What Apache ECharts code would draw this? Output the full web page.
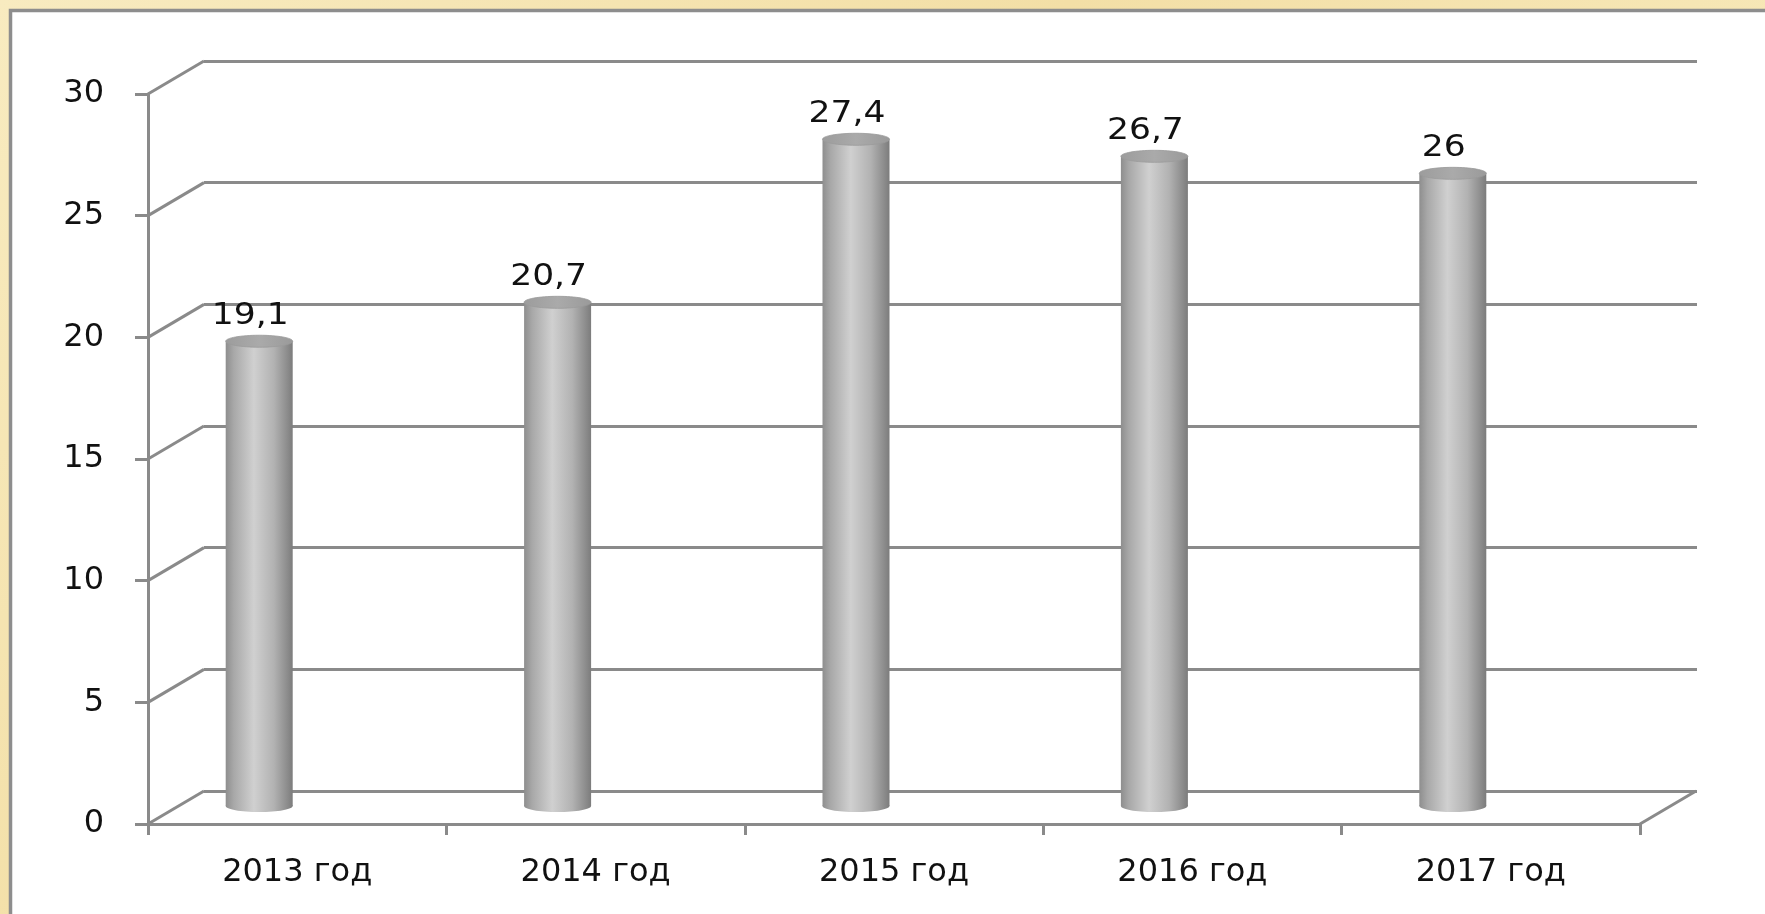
<!DOCTYPE html>
<html>
<head>
<meta charset="utf-8">
<script src="https://cdn.jsdelivr.net/npm/echarts@6/dist/echarts.min.js"></script>
<style>
html,body{margin:0;padding:0;}
body{width:1765px;height:914px;overflow:hidden;
background:linear-gradient(135deg,#f8ebc0 0%,#f3dfa6 40%,#f7e8b8 70%,#f1dca2 100%);}
#chart{width:1765px;height:914px;}
</style>
</head>
<body>
<div id="chart"></div>
<script>
// ---- data ----
const categories = ['2013 год', '2014 год', '2015 год', '2016 год', '2017 год'];
const values = [19.1, 20.7, 27.4, 26.7, 26];
const yTicks = [0, 5, 10, 15, 20, 25, 30];
const yMin = 0, yMax = 30, yStep = 5;

// ---- layout / style ----
const BACK = {left: 204, top: 61, width: 1493, height: 730};
const FRONT = {left: 148, top: 94, width: 1492, height: 730};
const BARS = {left: 110, top: 76, width: 1492, height: 730};
const DX = BACK.left - FRONT.left, DY = BACK.top - FRONT.top;
const LINE = '#8a8a8a';
const FONT = 'DejaVu Sans';
const TXT = '#111';

const chart = echarts.init(document.getElementById('chart'), null, {renderer: 'canvas'});

const yBase = {type: 'value', min: yMin, max: yMax, interval: yStep};

const option = {
  backgroundColor: 'transparent',
  animation: false,
  graphic: [{
    type: 'rect', z: -10, silent: true,
    shape: {x: 10.5, y: 10.5, width: 1900, height: 1000},
    style: {fill: '#ffffff', stroke: '#8d8d8d', lineWidth: 3.5}
  }],
  grid: [
    Object.assign({containLabel: false}, BACK),
    Object.assign({containLabel: false}, FRONT),
    Object.assign({containLabel: false}, BARS)
  ],
  xAxis: [
    {gridIndex: 0, type: 'category', data: categories, show: false},
    {gridIndex: 1, type: 'category', data: categories, boundaryGap: true,
      axisLine: {show: true, lineStyle: {color: LINE, width: 3}},
      axisTick: {show: true, length: 11, lineStyle: {color: LINE, width: 3}},
      axisLabel: {margin: 33, fontFamily: FONT, fontSize: 32, color: TXT},
      splitLine: {show: false}},
    {gridIndex: 2, type: 'category', data: categories, show: false},
    {gridIndex: 1, type: 'value', min: 0, max: categories.length, show: false, position: 'top'}
  ],
  yAxis: [
    Object.assign({gridIndex: 0, show: true,
      axisLine: {show: false}, axisTick: {show: false}, axisLabel: {show: false},
      splitLine: {show: true, lineStyle: {color: LINE, width: 3}}}, yBase),
    Object.assign({gridIndex: 1,
      axisLine: {show: true, lineStyle: {color: LINE, width: 3}},
      axisTick: {show: true, length: 13, lineStyle: {color: LINE, width: 3}},
      axisLabel: {margin: 44, fontFamily: FONT, fontSize: 32, color: TXT},
      splitLine: {show: false}}, yBase),
    Object.assign({gridIndex: 2, show: false, splitLine: {show: false}}, yBase)
  ],
  series: [
    {
      // depth connectors between front axis and back wall
      type: 'custom', xAxisIndex: 3, yAxisIndex: 1, silent: true, z: 1,
      data: yTicks.map(v => [0, v]).concat([[categories.length, 0]]),
      renderItem: function (params, api) {
        const p = api.coord([api.value(0), api.value(1)]);
        return {
          type: 'line',
          shape: {x1: p[0], y1: p[1], x2: p[0] + DX, y2: p[1] + DY},
          style: {stroke: LINE, lineWidth: 3}
        };
      }
    },
    {
      // cylinders
      type: 'custom', xAxisIndex: 2, yAxisIndex: 2, silent: true, z: 5,
      data: values.map((v, i) => [i, v]),
      renderItem: function (params, api) {
        const i = api.value(0), v = api.value(1);
        const base = api.coord([i, 0]);
        const top = api.coord([i, v]);
        const w = 67, rx = w / 2, ry = 6;
        const cx = base[0];
        const grad = new echarts.graphic.LinearGradient(0, 0, 1, 0, [
          {offset: 0, color: '#8e8e8e'},
          {offset: 0.12, color: '#a8a8a8'},
          {offset: 0.42, color: '#d0d0d0'},
          {offset: 0.72, color: '#b2b2b2'},
          {offset: 0.92, color: '#8c8c8c'},
          {offset: 1, color: '#7c7c7c'}
        ]);
        const topGrad = new echarts.graphic.LinearGradient(0, 0, 1, 0, [
          {offset: 0, color: '#9c9c9c'},
          {offset: 0.5, color: '#aaaaaa'},
          {offset: 1, color: '#9a9a9a'}
        ]);
        const label = String(v).replace('.', ',');
        const lx = cx - 9, ly = top[1] - 25;
        return {
          type: 'group',
          children: [
            {type: 'ellipse', shape: {cx: cx, cy: base[1], rx: rx, ry: ry}, style: {fill: grad}},
            {type: 'rect', shape: {x: cx - rx, y: top[1], width: w, height: base[1] - top[1]}, style: {fill: grad}},
            {type: 'ellipse', shape: {cx: cx, cy: top[1], rx: rx, ry: ry}, style: {fill: topGrad, stroke: '#9a9a9a', lineWidth: 0.8}},
            {type: 'text', x: lx, y: ly, scaleX: 1.15, scaleY: 1, originX: 0, originY: 0,
              style: {text: label, fontFamily: FONT, fontSize: 30, fill: TXT, align: 'center', verticalAlign: 'middle'}}
          ]
        };
      }
    }
  ]
};
chart.setOption(option);
</script>
</body>
</html>
